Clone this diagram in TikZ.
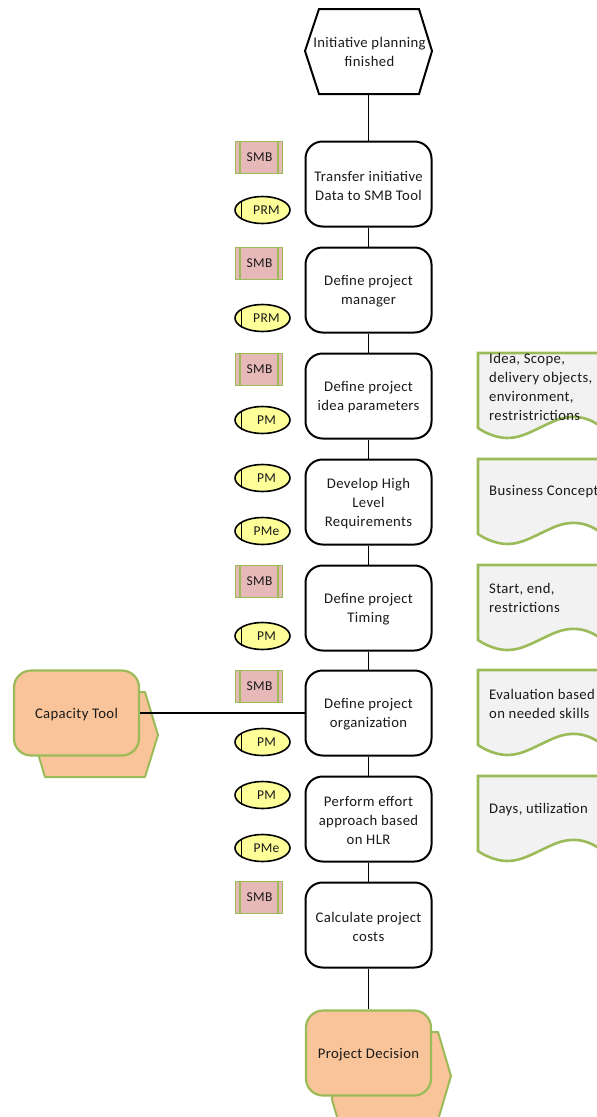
\documentclass[tikz,border=0pt]{standalone}
\usepackage{fontspec}
\setmainfont{Carlito}[LetterSpace=2.5]
\usetikzlibrary{shapes.geometric}
\definecolor{grn}{HTML}{9BBB59}
\definecolor{orgfill}{HTML}{E6B8B7}
\definecolor{rolefill}{HTML}{FFFF99}
\definecolor{toolfill}{HTML}{F9C499}
\definecolor{docfill}{HTML}{F2F2F2}
\definecolor{ink}{HTML}{1A1A1A}
\tikzset{
  x=1pt,y=-1pt,
  every node/.style={font=\fontsize{14.7}{19}\selectfont,text=ink,inner sep=0pt,align=center},
  procbox/.style={draw=black,line width=2pt,fill=white,rounded corners=17pt,minimum width=126pt,minimum height=85pt},
  hexbox/.style={draw=black,line width=2pt,fill=white},
  orgbox/.style={draw=grn,line width=1.8pt,fill=orgfill,minimum width=47pt,minimum height=32pt,font=\fontsize{13.5}{15}\selectfont},
  rolebox/.style={draw=black,line width=1.6pt,fill=rolefill,ellipse,minimum width=55pt,minimum height=27pt,font=\fontsize{13.5}{15}\selectfont},
  toolfront/.style={draw=grn,line width=2.2pt,fill=toolfill,rounded corners=17pt,minimum width=125pt,minimum height=85pt},
  toolback/.style={draw=grn,line width=2pt,fill=toolfill,line join=round},
  docshape/.style={draw=grn,line width=2.6pt,fill=docfill,line join=miter},
  link/.style={draw=black,line width=1.8pt},
  doctext/.style={anchor=west,align=left}
}
\newcommand{\orgbar}[1]{\draw[grn,line width=1.8pt] ([xshift=5.5pt]#1.north west)--([xshift=5.5pt]#1.south west) ([xshift=-5.5pt]#1.north east)--([xshift=-5.5pt]#1.south east);}
\newcommand{\docat}[1]{\path[docshape] (478,#1) -- (610,#1) -- (610,#1+82) .. controls (597,#1+68) and (578,#1+57) .. (552,#1+69) .. controls (532,#1+78) and (522,#1+85) .. (507,#1+85) .. controls (497,#1+85) and (485,#1+80) .. (478,#1+75) -- cycle;}
\begin{document}
\begin{tikzpicture}
\useasboundingbox (0,0) rectangle (597,1117);
% back shapes of tools
\path[toolback] (45,692) -- (145,692) -- (158,735) -- (145,777) -- (45,777) -- (39,757) -- cycle;
\path[toolback] (338,1032) -- (438,1032) -- (451,1076) -- (438,1120) -- (338,1120) -- (332,1100) -- cycle;
% event
\path[hexbox] (319,9) -- (419,9) -- (432,51) -- (419,94) -- (319,94) -- (305,51) -- cycle;
\node (start) at (369.5,52) {Initiative planning\\finished};
% process boxes
\node[procbox] (p1) at (368.5,184) {};
\node[procbox] (p2) at (368.5,290) {};
\node[procbox] (p3) at (368.5,396) {};
\node[procbox] (p4) at (368.5,502) {};
\node[procbox] (p5) at (368.5,608) {};
\node[procbox] (p6) at (368.5,713) {};
\node[procbox] (p7) at (368.5,819) {};
\node[procbox] (p8) at (368.5,925) {};
\node (t1) at (p1) [yshift=-1.5pt] {Transfer initiative\\Data to SMB Tool};
\node (t2) at (p2) [yshift=-1.5pt] {Define project\\manager};
\node (t3) at (p3) [yshift=-1.5pt] {Define project\\idea parameters};
\node (t4) at (p4) [yshift=-1.5pt] {Develop High\\Level\\Requirements};
\node (t5) at (p5) [yshift=-1.5pt] {Define project\\Timing};
\node (t6) at (p6) [yshift=-1.5pt] {Define project\\organization};
\node (t7) at (p7) [yshift=-1.5pt] {Perform effort\\approach based\\on HLR};
\node (t8) at (p8) [yshift=-1.5pt] {Calculate project\\costs};
% tools
\node[toolfront] (cap) at (76.5,713) {};
\node (capt) at (76.5,714.5) {Capacity Tool};
\node[toolfront] (dec) at (368.5,1053) {};
\node (dect) at (368.5,1054.5) {Project Decision};
\coordinate (starttail) at (368.5,94);
% connectors
\draw[link] (starttail) -- (p1.north);
\foreach \a/\b in {p1/p2,p2/p3,p3/p4,p4/p5,p5/p6,p6/p7,p7/p8,p8/dec}{\draw[link] (\a.south) -- (\b.north);}
\draw[link] (cap.east) -- (p6.west);
% org units
\foreach \n/\y in {o1/157.5,o2/263.5,o3/369.5,o4/581.5,o5/686.5,o6/897.5}{
  \node[orgbox] (\n) at (259,\y) {\hspace{1pt}SMB};
  \orgbar{\n}
}
% roles
\foreach \n/\y/\t in {r1/210/PRM,r2/318/PRM,r3/420/PM,r4/478/PM,r5/531/PMe,r6/636/PM,r7/742/PM,r8/795/PM,r9/848/PMe}{
  \node[rolebox] (\n) at (262.5,\y) {\hspace{8pt}\t};
  \draw[black,line width=1.6pt] (241.5,\y-9.5) -- (241.5,\y+9.5);
}
% documents
\docat{353}\docat{459}\docat{565}\docat{670}\docat{776}
\node[doctext] (d1) at (489,386.5) {\fontsize{14.7}{18.6}\selectfont Idea, Scope,\\delivery objects,\\environment,\\restristrictions};
\node[doctext] (d2) at (489,492) {Business Concept};
\node[doctext] (d3) at (489,598) {Start, end,\\restrictions};
\node[doctext] (d4) at (489,704) {Evaluation based\\on needed skills};
\node[doctext] (d5) at (489,810) {Days, utilization};
\end{tikzpicture}
\end{document}
